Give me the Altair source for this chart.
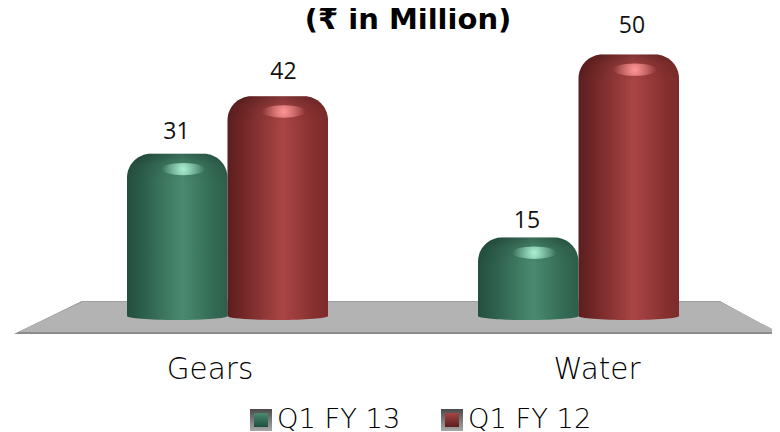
import altair as alt
import pandas as pd

categories = ["Gears", "Water"]
series = ["Q1 FY 13", "Q1 FY 12"]
q1_fy13 = [31, 15]
q1_fy12 = [42, 50]

PX = 351.0          # px per category unit
PY = 5.23           # px per value unit
X0, Y0 = 227.5, 316.0
W, H = 764, 424
xs = alt.Scale(domain=[(8 - X0) / PX, (8 + W - X0) / PX], nice=False, zero=False)
ys = alt.Scale(domain=[(Y0 - 8 - H) / PY, (Y0 - 8) / PY], nice=False, zero=False)
X = lambda f: alt.X(f, type="quantitative", scale=xs, axis=None)
Y = lambda f: alt.Y(f, type="quantitative", scale=ys, axis=None)
PXX = lambda p: (p - X0) / PX
PYY = lambda p: (Y0 - p) / PY


def gs(*pairs, **kw):
    return alt.Gradient(gradient="linear", stops=[alt.GradientStop(color=c, offset=o) for o, c in pairs], **kw)


green = gs((0, "#234f3e"), (0.12, "#2a5a48"), (0.55, "#4a8a70"), (0.85, "#346b55"), (1, "#2c5f4b"), x1=0, x2=1, y1=0, y2=0)
red = gs((0, "#5a1f1f"), (0.12, "#6d2424"), (0.55, "#aa4545"), (0.85, "#883030"), (1, "#7c2b2b"), x1=0, x2=1, y1=0, y2=0)
cap = gs((0, "rgba(0,0,0,0.24)"), (0.2, "rgba(0,0,0,0.07)"), (0.5, "rgba(0,0,0,0)"), (1, "rgba(0,0,0,0)"), x1=0, x2=0, y1=0, y2=1)
glow = lambda c: alt.Gradient(gradient="radial", stops=[alt.GradientStop(color=c, offset=0), alt.GradientStop(color=c.replace(",1)", ",0)"), offset=1)])

ELLIPSE = "M-1,0A1,0.28,0,1,1,1,0A1,0.28,0,1,1,-1,0Z"
BOTTOM = "M-1,0A1,0.08,0,0,0,1,0Z"

layers = []

# floor
edge = pd.DataFrame({"y": [PYY(334), PYY(301)], "a": [PXX(14), PXX(82)], "b": [PXX(780), PXX(720)]})
layers.append(alt.Chart(edge).mark_area(orient="horizontal", color="#8c8c8c").encode(x=X("a"), x2="b", y=Y("y")))
top = pd.DataFrame({"y": [PYY(332), PYY(301.6)], "a": [PXX(18), PXX(83)], "b": [PXX(778), PXX(720)]})
layers.append(alt.Chart(top).mark_area(orient="horizontal", color="#b3b3b3").encode(x=X("a"), x2="b", y=Y("y")))

# bars
BW = 100.5 / PX
for values, sgn, fill, hi in ((q1_fy13, -1, green, "rgba(170,240,210,1)"), (q1_fy12, 0, red, "rgba(255,150,150,1)")):
    d = pd.DataFrame({"v": values, "i": range(len(values))})
    d["x1"] = d["i"] + (-BW if sgn else 0)
    d["x2"] = d["x1"] + BW
    d["xc"] = d["x1"] + BW * 0.56
    d["xm"] = d["x1"] + BW / 2
    d["zero"] = 0
    d["capb"] = d["v"] - 10
    d["hi"] = d["v"] - 2.9
    base = alt.Chart(d)
    layers.append(base.mark_bar(fill=fill, cornerRadiusTopLeft=24, cornerRadiusTopRight=24).encode(x=X("x1"), x2="x2", y=Y("v"), y2="zero"))
    layers.append(base.mark_point(shape=BOTTOM, size=(100.5) ** 2, filled=True, fill=fill, opacity=1, strokeWidth=0).encode(x=X("xm"), y=Y("zero")))
    layers.append(base.mark_bar(fill=cap, cornerRadiusTopLeft=24, cornerRadiusTopRight=24).encode(x=X("x1"), x2="x2", y=Y("v"), y2="capb"))
    layers.append(base.mark_point(shape=ELLIPSE, size=44 ** 2, filled=True, fill=glow(hi), opacity=1, strokeWidth=0).encode(x=X("xc"), y=Y("hi")))

# data labels
lab = pd.DataFrame({
    "t": [q1_fy13[0], q1_fy12[0], q1_fy13[1], q1_fy12[1]],
    "x": [PXX(176.5), PXX(283.5), PXX(527), PXX(632)],
    "y": [PYY(139), PYY(79), PYY(227.5), PYY(33)],
})
layers.append(alt.Chart(lab).mark_text(font="Open Sans", fontSize=23, color="#111111", baseline="alphabetic").encode(x=X("x"), y=Y("y"), text="t:Q"))

# category labels
cat = pd.DataFrame({"t": categories, "x": [PXX(210), PXX(597)], "y": [PYY(379), PYY(379)]})
layers.append(alt.Chart(cat).mark_text(font="DejaVu Sans", fontSize=29.5, fontWeight=200, color="#000000", baseline="alphabetic").encode(x=X("x"), y=Y("y"), text="t:N"))

# title
ttl = pd.DataFrame({"t": ["(₹ in Million)"], "x": [PXX(408)], "y": [PYY(29)]})
layers.append(alt.Chart(ttl).mark_text(font="DejaVu Sans", fontSize=29, fontWeight="bold", color="#000000", baseline="alphabetic").encode(x=X("x"), y=Y("y"), text="t:N"))

# legend
leg = pd.DataFrame({"t": series, "x": [PXX(261), PXX(452)], "tx": [PXX(277), PXX(468)], "y": [PYY(420)] * 2, "ty": [PYY(428)] * 2})
bevel = gs((0, "#4a4a4a"), (0.5, "#7a7a7a"), (1, "#a8a8a8"), x1=0, x2=0, y1=0, y2=1)
for i, (colTop, colBot) in enumerate((("#1f4f3e", "#4a8a70"), ("#5a1f1f", "#a84444"))):
    one = leg.iloc[[i]]
    layers.append(alt.Chart(one).mark_point(shape="square", size=22 ** 2, filled=True, fill=bevel, opacity=1, strokeWidth=0).encode(x=X("x"), y=Y("y")))
    layers.append(alt.Chart(one).mark_point(shape="square", size=14 ** 2, filled=True, fill=gs((0, colBot), (1, colTop), x1=0, x2=0, y1=0, y2=1), opacity=1, strokeWidth=0).encode(x=X("x"), y=Y("y")))
layers.append(alt.Chart(leg).mark_text(font="DejaVu Sans", fontSize=27.3, fontWeight=200, color="#000000", align="left", baseline="alphabetic").encode(x=X("tx"), y=Y("ty"), text="t:N"))

chart = alt.layer(*layers).properties(
    width=W, height=H, padding=0, autosize=alt.AutoSizeParams(type="none"), background="white"
).configure_view(stroke=None)

chart.save("out.html", embed_options={"renderer": "svg", "actions": False})
